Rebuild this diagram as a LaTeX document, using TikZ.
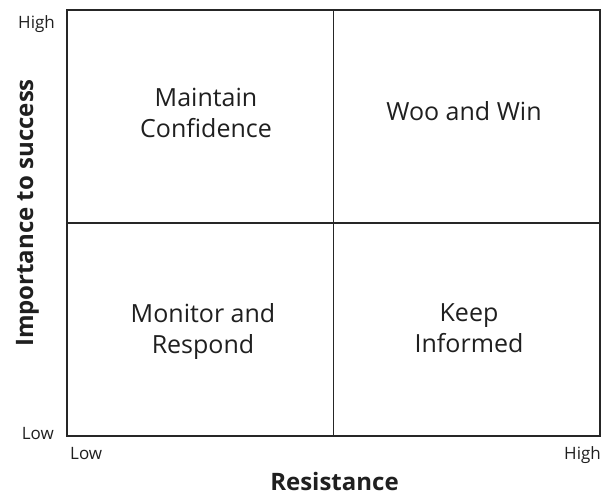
\documentclass[tikz,border=0pt]{standalone}
\usepackage{fontspec}
\setmainfont{Open Sans}
\setsansfont{Open Sans}
\usepackage{tikz}
\usetikzlibrary{positioning}

\begin{document}
\begin{tikzpicture}[
    x=1pt, y=-1pt,
    every node/.style={text=black!88, inner sep=0pt},
    % Quadrant captions
    quadlabel/.style={align=center, font=\fontsize{25}{31}\selectfont},
    % Low / High marks
    ticklabel/.style={font=\fontsize{17}{20}\selectfont},
    % Axis titles
    axislabel/.style={font=\fontsize{24}{28}\selectfont\bfseries},
    % Frame and dividers
    gridline/.style={draw=black!85, line width=1.3pt}
  ]
  \useasboundingbox (0,0) rectangle (602,496);

  % ============ Frame ============
  \coordinate (nw) at (67,10);
  \coordinate (se) at (600,436);
  \coordinate (mid) at (333.5,223);
  \draw[gridline] (nw) rectangle (se);
  \draw[gridline] (nw -| mid) -- (se -| mid);
  \draw[gridline] (nw |- mid) -- (se |- mid);

  % ============ Quadrants ============
  \node[quadlabel] (confid) at (206,113) {Maintain\\Confidence};
  \node[quadlabel] (woowin) at (464,111) {Woo and Win};
  \node[quadlabel] (monitor) at (203,331) {Monitor and\\Respond};
  \node[quadlabel] (inform) at (469,328) {Keep\\Informed};

  % ============ Axis marks ============
  \node[ticklabel, anchor=base east] (yhigh) at (55,28) {High};
  \node[ticklabel, anchor=base east] (ylow) at (54,439) {Low};
  \node[ticklabel, anchor=base west] (xlow) at (70,459) {Low};
  \node[ticklabel, anchor=base east] (xhigh) at (601,459) {High};

  % ============ Axis titles ============
  \node[axislabel, anchor=base] (xtitle) at (334.5,490) {Resistance};
  \node[axislabel, anchor=base, rotate=90] (ytitle) at (33,213) {Importance to success};

\end{tikzpicture}
\end{document}
